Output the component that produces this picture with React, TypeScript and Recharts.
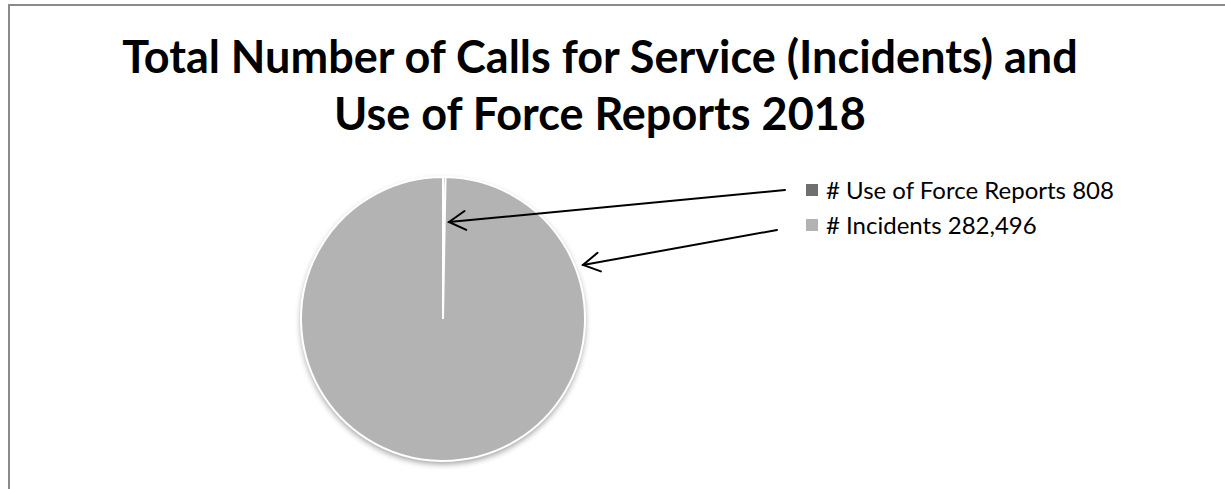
import React from 'react';
import { PieChart, Pie, Cell, Legend } from 'recharts';

const categories = ['# Use of Force Reports', '# Incidents'];
const values = [808, 282496];
const valueLabels = ['808', '282,496'];
const colors = ['#6f6f6f', '#b3b3b3'];
const titleLines = ['Total Number of Calls for Service (Incidents) and', 'Use of Force Reports 2018'];

const data = categories.map((name, i) => ({ name, value: values[i], valueLabel: valueLabels[i] }));

const W = 1225;
const H = 489;
const CX = 443;
const CY = 319;
const R = 142;
const FONT = 'Lato, "Open Sans", sans-serif';

const Arrow = ({ x1, y1, x2, y2 }: { x1: number; y1: number; x2: number; y2: number }) => {
  const ang = Math.atan2(y1 - y2, x1 - x2);
  const len = 19;
  const spread = 0.52;
  const a1x = x2 + len * Math.cos(ang + spread);
  const a1y = y2 + len * Math.sin(ang + spread);
  const a2x = x2 + len * Math.cos(ang - spread);
  const a2y = y2 + len * Math.sin(ang - spread);
  return (
    <g stroke="#000" strokeWidth={2} fill="none" strokeLinecap="round">
      <line x1={x1} y1={y1} x2={x2} y2={y2} />
      <polyline points={`${a1x},${a1y} ${x2},${y2} ${a2x},${a2y}`} />
    </g>
  );
};

const LegendContent = () => (
  <div style={{ fontFamily: FONT }}>
    {data.map((d, i) => (
      <div key={i} style={{ display: 'flex', alignItems: 'center', height: 35, whiteSpace: 'nowrap' }}>
        <span
          style={{
            display: 'inline-block',
            width: 12,
            height: 12,
            background: colors[i],
            marginRight: 8,
          }}
        />
        <span style={{ fontSize: 24, color: '#000' }}>
          {d.name} {d.valueLabel}
        </span>
      </div>
    ))}
  </div>
);

export default function App() {
  return (
    <div
      style={{
        position: 'absolute',
        left: 0,
        top: 0,
        width: W,
        height: H,
        overflow: 'hidden',
        background: '#fff',
      }}
    >
      <div
        style={{
          position: 'absolute',
          left: 8,
          top: 4,
          width: W,
          height: H,
          border: '2px solid #8a8a8a',
        }}
      />
      <svg width={W} height={H} style={{ position: 'absolute', left: 0, top: 0 }}>
        <defs>
          <filter id="pieShadow" x="-20%" y="-20%" width="140%" height="140%">
            <feGaussianBlur in="SourceAlpha" stdDeviation={3} />
            <feOffset dx={0} dy={3} result="b" />
            <feComponentTransfer>
              <feFuncA type="linear" slope={0.4} />
            </feComponentTransfer>
          </filter>
        </defs>
        <circle cx={CX} cy={CY} r={R} fill="#000" filter="url(#pieShadow)" />
      </svg>
      <div style={{ position: 'absolute', left: 0, top: 0 }}>
        <PieChart width={W} height={H} margin={{ top: 0, right: 0, bottom: 0, left: 0 }}>
          <Pie
            data={data}
            dataKey="value"
            nameKey="name"
            cx={CX}
            cy={CY}
            outerRadius={R}
            startAngle={90}
            endAngle={-270}
            stroke="#fff"
            strokeWidth={2}
            isAnimationActive={false}
          >
            {data.map((d, i) => (
              <Cell key={d.name} fill={colors[i]} />
            ))}
          </Pie>
          <Legend
            layout="vertical"
            align="right"
            verticalAlign="top"
            content={<LegendContent />}
            wrapperStyle={{ position: 'absolute', left: 806, top: 172, width: 400, right: 'auto' }}
          />
        </PieChart>
      </div>
      <svg
        width={W}
        height={H}
        style={{ position: 'absolute', left: 0, top: 0, pointerEvents: 'none' }}
      >
        {titleLines.map((t, i) => (
          <text
            key={i}
            x={600}
            y={73 + i * 57}
            textAnchor="middle"
            fontFamily={FONT}
            fontWeight={700}
            fontSize={45}
            fill="#000"
          >
            {t}
          </text>
        ))}
        <Arrow x1={785} y1={190} x2={CX + 6} y2={CY - 97} />
        <Arrow x1={777} y1={230} x2={CX + 140} y2={CY - 54} />
      </svg>
    </div>
  );
}
